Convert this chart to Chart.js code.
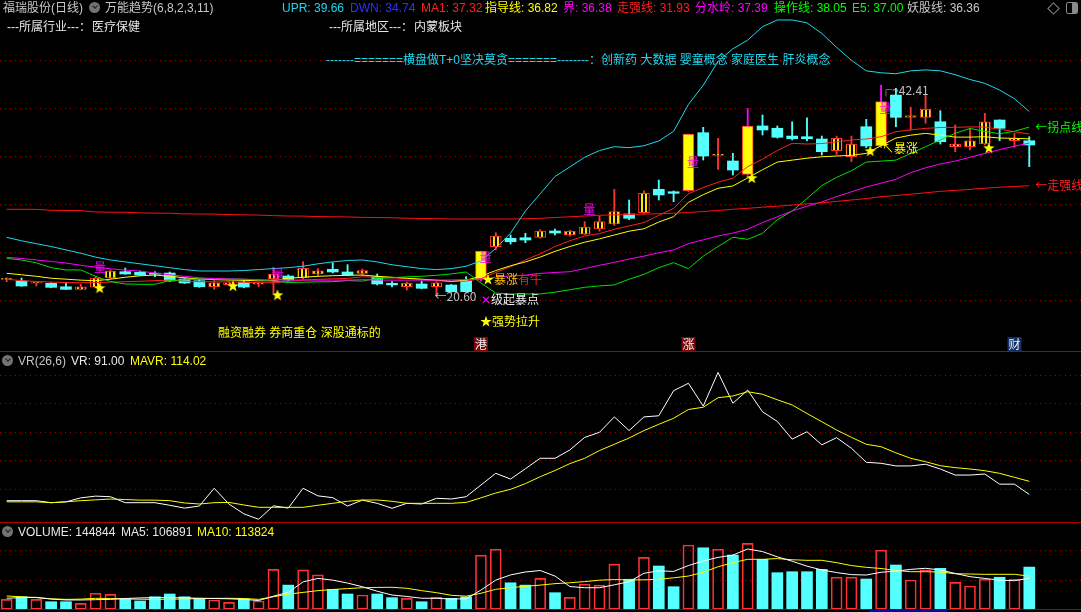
<!DOCTYPE html>
<html lang="zh-CN">
<head>
<meta charset="utf-8">
<title>福瑞股份(日线)</title>
<script src="https://cdn.jsdelivr.net/npm/chart.js@4.4.1/dist/chart.umd.min.js"></script>
<style>
  html, body { margin: 0; padding: 0; background: #000; }
  body { position: relative; width: 1081px; height: 612px; overflow: hidden;
         font-family: "Liberation Sans", "Noto Sans CJK SC", sans-serif; font-size: 12px; }
  canvas { position: absolute; left: 0; }
  .t { position: absolute; white-space: pre; line-height: 14px; }
  .ico { position: absolute; width: 11px; height: 11px; border-radius: 50%; background: #737373; }
  .ico::after { content: ""; position: absolute; left: 3.5px; top: 2px; width: 3px; height: 3px;
                border-right: 1.5px solid #1c1c1c; border-bottom: 1.5px solid #1c1c1c; transform: rotate(45deg); }
  .sep { position: absolute; left: 0; width: 1081px; height: 1px; background: #b00000; }
</style>
</head>
<body>
<canvas id="mainChart" width="1081" height="352" style="top:0"></canvas>
<canvas id="vrChart" width="1081" height="170" style="top:352px"></canvas>
<canvas id="volChart" width="1081" height="90" style="top:522px"></canvas>
<div class="sep" style="top:351px"></div>
<div class="sep" style="top:522px"></div>
<div class="sep" style="top:609px;background:#a00000"></div>
<div style="position:absolute;left:869px;top:609px;width:78px;height:3px;background:#0a0a9a"></div>

<!-- header row 1 -->
<div class="t" style="left:3px;top:1px;color:#c8c8c8">福瑞股份(日线)</div>
<div class="ico" style="left:89px;top:2px"></div>
<div class="t" style="left:105px;top:1px;color:#c8c8c8">万能趋势(6,8,2,3,11)</div>
<div class="t" style="left:282px;top:1px;color:#1ed8f0">UPR: 39.66</div>
<div class="t" style="left:350px;top:1px;color:#2832ff">DWN: 34.74</div>
<div class="t" style="left:421px;top:1px;color:#ff2020">MA1: 37.32</div>
<div class="t" style="left:485px;top:1px;color:#ffff00">指导线: 36.82</div>
<div class="t" style="left:563px;top:1px;color:#ff00ff">界: 36.38</div>
<div class="t" style="left:617px;top:1px;color:#ff2020">走强线: 31.93</div>
<div class="t" style="left:695px;top:1px;color:#ff00ff">分水岭: 37.39</div>
<div class="t" style="left:774px;top:1px;color:#00ff00">操作线: 38.05</div>
<div class="t" style="left:852px;top:1px;color:#00ff00">E5: 37.00</div>
<div class="t" style="left:907px;top:1px;color:#c8c8c8">妖股线: 36.36</div>
<div style="position:absolute;left:1049px;top:4px;width:7px;height:7px;border:1px solid #8a8a8a;transform:rotate(45deg)"></div>
<div style="position:absolute;left:1066px;top:2px;width:10px;height:10px;border:1px solid #8a8a8a;border-radius:2px;overflow:hidden">
  <div style="position:absolute;left:5px;top:0;width:5px;height:10px;background:#8a8a8a"></div>
</div>

<!-- header row 2 -->
<div class="t" style="left:7px;top:20px;color:#e6e6e6">---所属行业---：</div>
<div class="t" style="left:92px;top:20px;color:#e6e6e6">医疗保健</div>
<div class="t" style="left:329px;top:20px;color:#e6e6e6">---所属地区---：</div>
<div class="t" style="left:414px;top:20px;color:#e6e6e6">内蒙板块</div>

<!-- concept row -->
<div class="t" style="left:326px;top:53px;color:#1ed8f0">-------=======横盘做T+0坚决莫贪=======--------：创新药 大数据 婴童概念 家庭医生 肝炎概念</div>
<div class="t" style="left:218px;top:326px;color:#ffff00">融资融券 券商重仓 深股通标的</div>

<!-- VR header -->
<div class="ico" style="left:2px;top:355px"></div>
<div class="t" style="left:18px;top:354px;color:#c8c8c8">VR(26,6)</div>
<div class="t" style="left:71px;top:354px;color:#e8e8e8">VR: 91.00</div>
<div class="t" style="left:130px;top:354px;color:#ffff00">MAVR: 114.02</div>

<!-- volume header -->
<div class="ico" style="left:2px;top:526px"></div>
<div class="t" style="left:18px;top:525px;color:#e8e8e8">VOLUME: 144844</div>
<div class="t" style="left:121px;top:525px;color:#e8e8e8">MA5: 106891</div>
<div class="t" style="left:197px;top:525px;color:#ffff00">MA10: 113824</div>

<script>
// ---- daily candles (price) ----
const candleOpen = [22.18, 22.01, 21.78, 21.77, 21.41, 21.14, 21.38, 22.32, 22.98, 22.92,
  22.76, 22.84, 22.22, 22.04, 21.41, 21.63, 21.90, 21.68, 22.22, 22.53,
  22.32, 22.74, 23.23, 22.95, 22.81, 22.46, 21.77, 21.42, 21.70, 21.42,
  21.59, 22.04, 22.19, 25.58, 26.46, 26.52, 26.56, 27.22, 26.80, 26.90,
  27.43, 27.95, 28.99, 29.12, 31.56, 31.31, 31.42, 37.46, 35.10, 34.51,
  33.12, 38.16, 37.92, 37.11, 37.04, 36.80, 35.58, 34.96, 38.08, 36.07,
  41.38, 39.06, 39.06, 38.60, 36.00, 36.00, 36.28, 38.78, 36.62, 36.62];
const candleHigh = [22.35, 22.32, 21.94, 21.83, 21.77, 21.66, 22.50, 23.20, 23.36, 23.05,
  22.98, 22.95, 22.30, 22.15, 22.04, 21.95, 22.10, 21.83, 23.44, 22.65,
  24.02, 23.30, 23.92, 23.71, 23.26, 22.74, 21.94, 21.90, 22.00, 21.95,
  21.65, 22.46, 25.14, 27.04, 26.80, 26.98, 27.36, 27.42, 27.30, 28.19,
  28.78, 31.56, 30.45, 31.40, 32.53, 31.40, 37.32, 38.02, 36.87, 35.31,
  39.99, 39.30, 38.16, 38.60, 39.02, 37.11, 37.10, 37.11, 38.85, 42.41,
  42.08, 40.11, 41.49, 39.75, 38.26, 37.91, 39.48, 38.80, 37.39, 37.04];
const candleLow = [21.94, 21.45, 21.49, 21.32, 21.10, 21.10, 21.30, 22.25, 22.70, 22.60,
  22.46, 21.95, 21.75, 21.35, 21.14, 21.55, 21.30, 21.41, 20.80, 22.00,
  22.20, 22.50, 22.85, 22.55, 22.57, 21.60, 21.39, 21.07, 21.20, 20.60,
  20.85, 20.85, 22.00, 25.24, 25.86, 26.00, 26.46, 26.80, 26.70, 26.85,
  27.20, 27.80, 28.40, 29.00, 30.45, 30.27, 31.30, 34.61, 33.64, 33.05,
  33.00, 37.22, 36.90, 36.70, 36.59, 35.13, 35.20, 34.45, 35.90, 35.90,
  38.08, 37.74, 38.44, 36.28, 35.48, 35.66, 36.18, 36.62, 35.94, 33.92];
const candleClose = [22.22, 21.49, 21.82, 21.35, 21.14, 21.41, 22.32, 23.05, 22.74, 22.63,
  22.72, 22.01, 21.80, 21.41, 21.83, 21.83, 21.38, 21.72, 22.74, 22.11,
  23.33, 23.08, 22.95, 22.63, 23.09, 21.70, 21.60, 21.77, 21.25, 21.83,
  20.90, 20.90, 25.14, 26.70, 26.10, 26.28, 27.22, 27.01, 27.19, 27.63,
  28.19, 29.23, 28.54, 31.14, 30.97, 31.14, 37.32, 35.03, 35.24, 33.57,
  38.16, 37.74, 36.98, 36.83, 36.83, 35.48, 36.87, 36.28, 36.08, 40.69,
  39.06, 39.23, 39.90, 36.52, 36.28, 36.62, 38.60, 37.92, 36.87, 36.18];

// ---- indicator lines (万能趋势) ----
const upr = [26.56, 26.2, 25.9, 25.6, 25.25, 24.9, 24.5, 24.2, 24.0, 23.8,
  23.6, 23.4, 23.2, 23.05, 23.05, 23.05, 23.1, 23.2, 23.3, 23.4,
  23.55, 23.8, 24.0, 24.15, 24.2, 24.0, 23.7, 23.5, 23.3, 23.2,
  23.3, 23.55, 24.1, 25.4, 27.0, 29.3, 31.1, 32.9, 33.9, 34.9,
  35.6, 36.0, 35.9, 36.1, 36.6, 37.6, 40.4, 42.4, 44.9, 46.2,
  47.1, 48.5, 49.2, 49.2, 48.9, 47.8, 46.35, 45.0, 43.9, 43.7,
  43.6, 43.9, 44.0, 43.9, 43.5, 43.0, 42.6, 41.9, 41.0, 39.66];
const ma1 = [22.19, 22.05, 21.96, 21.9, 21.85, 21.83, 21.85, 21.9, 21.94, 21.98,
  22.05, 22.1, 22.0, 21.94, 21.92, 21.91, 21.88, 21.84, 21.83, 21.97,
  22.11, 22.18, 22.24, 22.28, 22.45, 22.4, 22.33, 22.29, 22.15, 22.05,
  21.96, 22.0, 22.25, 22.9, 23.5, 24.2, 24.85, 25.6, 26.2, 26.7,
  26.95, 27.4, 27.75, 28.1, 28.85, 29.58, 31.1, 31.75, 32.3, 32.71,
  33.92, 34.7, 35.6, 36.35, 36.28, 36.33, 36.5, 36.7, 36.8, 37.04,
  37.56, 37.75, 37.91, 38.0, 38.02, 38.06, 38.05, 37.82, 37.56, 37.32];
const guideLine = [22.81, 22.66, 22.5, 22.3, 22.2, 22.1, 22.04, 22.2, 22.4, 22.55,
  22.63, 22.5, 22.35, 22.22, 22.15, 22.11, 22.08, 22.03, 22.05, 22.3,
  22.4, 22.5, 22.56, 22.6, 22.63, 22.5, 22.4, 22.3, 22.2, 22.1,
  21.98, 22.1, 22.5, 23.1, 23.6, 24.0, 24.5, 25.1, 25.6, 26.05,
  26.4, 26.8, 27.2, 27.45, 28.15, 28.71, 30.2, 31.0, 31.67, 31.91,
  32.75, 33.6, 34.4, 34.6, 34.8, 34.95, 35.03, 35.1, 35.3, 36.1,
  36.9, 37.2, 37.39, 37.2, 37.0, 37.0, 37.04, 36.9, 36.87, 36.82];
const jieLine = [24.48, 24.35, 24.2, 24.05, 23.88, 23.65, 23.45, 23.28, 23.15, 23.04,
  22.85, 22.65, 22.5, 22.35, 22.27, 22.22, 22.19, 22.15, 22.12, 22.11,
  22.11, 22.1, 22.1, 22.1, 22.15, 22.12, 22.1, 22.1, 22.1, 22.1,
  22.12, 22.15, 22.2, 22.4, 22.55, 22.62, 22.8, 22.9, 22.98, 23.3,
  23.65, 23.95, 24.3, 24.6, 24.95, 25.25, 25.9, 26.3, 26.7, 27.0,
  27.4, 28.1, 28.7, 29.3, 29.8, 30.25, 30.8, 31.3, 31.8, 32.2,
  32.6, 33.3, 33.8, 34.2, 34.5, 34.9, 35.3, 35.7, 36.05, 36.38];
const strongLine = [29.48, 29.48, 29.47, 29.38, 29.36, 29.34, 29.2, 29.18, 29.17, 29.1,
  29.08, 29.07, 29.0, 28.99, 28.98, 28.93, 28.9, 28.88, 28.82, 28.78,
  28.77, 28.72, 28.7, 28.68, 28.64, 28.62, 28.6, 28.55, 28.52, 28.5,
  28.47, 28.46, 28.47, 28.47, 28.47, 28.5, 28.54, 28.62, 28.7, 28.78,
  28.86, 28.9, 28.93, 28.98, 29.02, 29.06, 29.15, 29.25, 29.36, 29.48,
  29.58, 29.7, 29.8, 29.92, 30.05, 30.15, 30.3, 30.45, 30.6, 30.79,
  30.92, 31.05, 31.2, 31.35, 31.45, 31.55, 31.68, 31.78, 31.86, 31.93];
const opLine = [24.37, 24.2, 23.9, 23.4, 23.16, 23.16, 22.5, 21.95, 21.7, 21.67,
  21.67, 22.05, 22.15, 22.22, 22.22, 22.22, 22.2, 22.12, 22.0, 21.85,
  21.88, 21.92, 21.94, 22.05, 22.0, 22.29, 22.35, 22.45, 22.5, 22.6,
  22.75, 22.95, 21.8, 20.75, 20.66, 20.66, 20.66, 20.85, 21.1, 21.35,
  21.5, 21.6, 22.2, 22.7, 23.4, 23.92, 23.3, 24.6, 25.6, 26.56,
  26.35, 26.98, 28.4, 29.3, 30.6, 31.95, 32.8, 33.5, 34.4, 34.5,
  34.6, 35.3, 36.0, 36.7, 37.4, 37.9, 37.6, 37.35, 37.6, 38.05];

// signal stars (index, price)
const starIdx = [6, 15, 18, 50, 58, 66];
const starPrice = [21.28, 21.49, 20.55, 32.74, 35.55, 35.86];

// ---- VR(26,6) ----
const vr = [80, 80, 80, 76.5, 78, 85, 88, 87, 76.5, 76.5,
  76.5, 72, 67, 70.7, 101.8, 74, 57, 47.4, 71, 67,
  101.8, 88.5, 85.3, 70.7, 81, 75.4, 66.7, 75.4, 74.2, 84.2,
  83, 87, 107.5, 128, 118, 136, 154.4, 154.4, 169, 191,
  200, 227, 203, 227, 229, 273, 286, 246, 305, 251,
  274, 236, 219, 188, 201, 178, 190.5, 172, 147.4, 145.6,
  141, 141, 144, 135.6, 125, 125, 126.8, 109, 109, 91];
const mavr = [78, 78, 78, 76.5, 78, 80, 81.5, 83, 82, 81,
  81, 80, 76, 74.2, 76.5, 77, 72.5, 68.4, 68.4, 68.4,
  68.4, 72, 75.4, 79, 81.2, 81.2, 79, 75.4, 75.4, 75.4,
  75.4, 77, 85, 93.5, 100, 110, 122, 133, 145, 154.4,
  168, 179, 190, 203, 214, 224.6, 240, 244, 260.7, 263.7,
  271.2, 266.7, 257, 248, 233, 218.6, 204, 191.2, 179, 174.7,
  164, 154.4, 148.4, 141.4, 138, 135.6, 132.6, 128, 121, 114.02];

// ---- volume ----
const volume = [34000, 43000, 34000, 26000, 26000, 20600, 55000, 51000, 35000, 28500,
  43000, 52500, 43000, 37700, 32000, 24000, 35000, 28500, 137000, 83000,
  135000, 118000, 68600, 52500, 49000, 52500, 40000, 37700, 26000, 41000,
  37700, 43000, 186000, 206000, 91000, 83000, 106000, 57000, 41000, 86000,
  83000, 155000, 103000, 178000, 148500, 77500, 220500, 211000, 206000, 186000,
  226000, 171500, 125600, 129000, 129000, 137000, 110000, 110000, 104000, 203000,
  152000, 100500, 135000, 140600, 92600, 80000, 103000, 110000, 103000, 144844];
const volMa5 = [38000, 40000, 41000, 35000, 32000, 32000, 33000, 34000, 37000, 39000,
  40000, 40000, 39000, 38000, 37000, 36000, 34000, 30000, 45000, 58000,
  94000, 106000, 100000, 90000, 77500, 62000, 49000, 44000, 38000, 37700,
  35300, 36000, 66000, 100000, 118000, 128000, 133000, 114000, 78000, 74000,
  74000, 84000, 94700, 123500, 132000, 130000, 150000, 166000, 178000, 186000,
  207000, 198000, 180000, 165000, 148000, 135000, 126000, 119000, 117600, 127000,
  131000, 137000, 140600, 135000, 123000, 112000, 106000, 100000, 98000, 106891];
const volMa10 = [45600, 43000, 40000, 36000, 34000, 35000, 37700, 37000, 35500, 34500,
  34000, 34500, 35500, 36500, 37500, 37700, 37000, 34000, 43000, 52000,
  58000, 64000, 68000, 71000, 74000, 75000, 75500, 72000, 64000, 57000,
  48000, 45000, 55000, 68600, 74000, 79000, 83000, 88000, 91000, 95000,
  100000, 102000, 101000, 101000, 103000, 108000, 114000, 127000, 146000, 160000,
  171500, 171500, 174000, 170000, 168000, 168000, 160000, 150000, 144000, 140000,
  133000, 129000, 129000, 128000, 122000, 121000, 120000, 120000, 120000, 113824];

// grid levels
const priceGrid = [20, 25, 30, 35, 40, 45];
const vrGrid = [100, 150, 200, 250, 300];
const volGrid = [100000, 200000];

// ---------------------------------------------------------------
const X_MIN = -0.452, X_MAX = 72.49;
const RED = '#ff3232', CYAN = '#54ffff', GRID = '#a80000';
const CJK = '12px "Noto Sans CJK SC", sans-serif';

const idx = candleOpen.map((_, i) => i);
const isUp = i => candleClose[i] >= candleOpen[i];
const isSurge = i => isUp(i) && (candleClose[i] - candleOpen[i]) / candleOpen[i] > 0.1;
const pts = arr => arr.map((v, i) => ({ x: i, y: v }));

const mainCtx = document.getElementById('mainChart').getContext('2d');

// thin yellow stripes inside up candles
const stripeCanvas = document.createElement('canvas');
stripeCanvas.width = 4; stripeCanvas.height = 1;
const sg = stripeCanvas.getContext('2d');
sg.fillStyle = '#000'; sg.fillRect(0, 0, 4, 1);
sg.fillStyle = '#ffe400'; sg.fillRect(1, 0, 2, 1);
const stripes = mainCtx.createPattern(stripeCanvas, 'repeat');

// star marker, drawn a little right of the candle like the original
const starImg = document.createElement('canvas');
starImg.width = 22; starImg.height = 14;
(function () {
  const g = starImg.getContext('2d');
  g.fillStyle = '#ffff00';
  g.beginPath();
  for (let k = 0; k < 10; k++) {
    const r = k % 2 ? 2.5 : 6;
    const a = -Math.PI / 2 + k * Math.PI / 5;
    g.lineTo(15 + r * Math.cos(a), 7.3 + r * Math.sin(a));
  }
  g.closePath();
  g.fill();
})();

function yGrid(levels) {
  return s => { s.ticks = levels.map(v => ({ value: v })); };
}
function yAxis(min, max, levels) {
  return {
    min, max,
    afterBuildTicks: yGrid(levels),
    ticks: { display: false },
    grid: { color: GRID, lineWidth: 1, drawTicks: false },
    border: { display: false, dash: [1, 4] }
  };
}
const xAxis = { type: 'linear', min: X_MIN, max: X_MAX, display: false, offset: false };
const baseOpts = {
  responsive: false,
  animation: false,
  devicePixelRatio: 1,
  events: [],
  layout: { padding: 0, autoPadding: false },
  plugins: { legend: { display: false }, tooltip: { enabled: false } }
};
const line = (data, color, order) => ({
  type: 'line', data: pts(data), borderColor: color, borderWidth: 1,
  pointRadius: 0, tension: 0, fill: false, order
});

// text notes on the price panel (index, price)
const notes = [
  { i: 6, p: 23.47, dx: -1.5, parts: [['量', '#ff00ff']] },
  { i: 18, p: 22.74, dx: -1.5, parts: [['量', '#ff00ff']] },
  { i: 32, p: 24.46, dx: -1.5, parts: [['量', '#ff00ff']] },
  { i: 39, p: 29.51, dx: -1.5, parts: [['量', '#ff00ff']] },
  { i: 46, p: 34.35, dx: -1.5, parts: [['量', '#ff00ff']] },
  { i: 59, p: 39.98, dx: -1.5, parts: [['量', '#ff00ff']] },
  { i: 29, p: 20.45, dx: -2, parts: [['←20.60', '#c0c0c0']] },
  { i: 59, p: 41.91, dx: -1, parts: [['┌~42.41', '#c0c0c0']] },
  { i: 32, p: 22.22, dx: 1, parts: [['★', '#ffff00'], ['暴涨', '#ffc000'], ['有牛', '#ff2020']] },
  { i: 32, p: 20.13, dx: 0, parts: [['✕', '#ff00ff'], ['级起暴点', '#f0f0f0']] },
  { i: 32, p: 17.84, dx: -1, parts: [['★强势拉升', '#ffff00']] },
  { i: 59, p: 35.86, dx: 1, parts: [['↖暴涨', '#ffff00']] },
  { i: 69, p: opLine[opLine.length - 1], dx: 6, parts: [['←拐点线', '#00ff00']] },
  { i: 69, p: strongLine[strongLine.length - 1], dx: 6, parts: [['←走强线', '#ff2020']] }
];
const tags = [
  { i: 32, t: '港', bg: '#7a0a0a' },
  { i: 46, t: '涨', bg: '#7a0a0a' },
  { i: 68, t: '财', bg: '#13306a' }
];

const notesPlugin = {
  id: 'notes',
  afterDatasetsDraw(chart) {
    const { ctx, chartArea } = chart;
    const x = chart.scales.x, y = chart.scales.y;
    ctx.save();
    ctx.font = CJK;
    ctx.textBaseline = 'middle';
    ctx.textAlign = 'left';
    notes.forEach(n => {
      let px = x.getPixelForValue(n.i) + n.dx;
      const py = y.getPixelForValue(n.p);
      n.parts.forEach(([txt, col]) => {
        ctx.fillStyle = col;
        ctx.fillText(txt, px, py);
        px += ctx.measureText(txt).width;
      });
    });
    ctx.textAlign = 'center';
    tags.forEach(tg => {
      const px = x.getPixelForValue(tg.i);
      ctx.fillStyle = tg.bg;
      ctx.fillRect(px - 7, chartArea.bottom - 15, 14, 14);
      ctx.fillStyle = '#f0f0f0';
      ctx.fillText(tg.t, px, chartArea.bottom - 8);
    });
    ctx.restore();
  }
};

new Chart(mainCtx, {
  type: 'bar',
  data: {
    datasets: [
      {
        type: 'scatter', data: starIdx.map((i, k) => ({ x: i, y: starPrice[k] })),
        pointStyle: starImg, pointRadius: 6, order: 0
      },
      line(upr, '#20d8ec', 1),
      line(strongLine, '#ff1010', 1),
      line(jieLine, '#ff00ff', 1),
      line(opLine, '#00e000', 1),
      line(guideLine, '#ffff00', 1),
      line(ma1, '#ff2020', 1),
      {
        label: 'body',
        data: idx.map(i => ({ x: i, y: [candleOpen[i], candleClose[i]] })),
        barThickness: 11, minBarLength: 1, grouped: false, borderSkipped: false,
        backgroundColor: c => {
          const i = c.dataIndex;
          if (i === undefined || !isUp(i)) return CYAN;
          return isSurge(i) ? '#ffff00' : stripes;
        },
        borderColor: c => (c.dataIndex !== undefined && isUp(c.dataIndex)) ? RED : CYAN,
        borderWidth: c => (c.dataIndex !== undefined && isUp(c.dataIndex)) ? 1 : 0,
        order: 2
      },
      {
        label: 'wick',
        data: idx.map(i => ({ x: i, y: [candleLow[i], candleHigh[i]] })),
        barThickness: 1.2, grouped: false,
        backgroundColor: c => {
          const i = c.dataIndex;
          if (i === undefined) return CYAN;
          if (isSurge(i)) return '#ff00ff';
          return isUp(i) ? RED : CYAN;
        },
        order: 3
      }
    ]
  },
  options: Object.assign({}, baseOpts, {
    scales: { x: xAxis, y: yAxis(14.615, 51.281, priceGrid) }
  }),
  plugins: [notesPlugin]
});

new Chart(document.getElementById('vrChart').getContext('2d'), {
  type: 'line',
  data: { datasets: [line(vr, '#ffffff', 1), line(mavr, '#ffff00', 0)] },
  options: Object.assign({}, baseOpts, {
    scales: { x: xAxis, y: yAxis(42.63, 340.88, vrGrid) }
  })
});

new Chart(document.getElementById('volChart').getContext('2d'), {
  type: 'bar',
  data: {
    datasets: [
      line(volMa5, '#ffffff', 0),
      line(volMa10, '#ffff00', 1),
      {
        data: pts(volume), barThickness: 11, grouped: false, borderSkipped: false,
        backgroundColor: c => (c.dataIndex !== undefined && isUp(c.dataIndex)) ? 'rgba(0,0,0,0)' : CYAN,
        borderColor: RED,
        borderWidth: c => (c.dataIndex !== undefined && isUp(c.dataIndex)) ? 1 : 0,
        order: 2
      }
    ]
  },
  options: Object.assign({}, baseOpts, {
    scales: { x: xAxis, y: yAxis(-9262, 299485, volGrid) }
  })
});
</script>
</body>
</html>
